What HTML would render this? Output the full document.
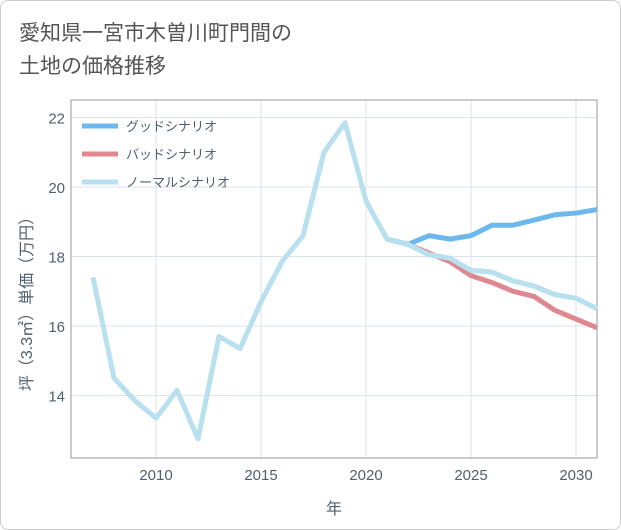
<!DOCTYPE html>
<html><head><meta charset="utf-8"><style>
body{margin:0;background:#fff;font-family:"Liberation Sans","Noto Sans CJK JP",sans-serif;}
#card{position:absolute;left:0;top:0;width:619px;height:528px;border:1px solid #ccc;border-radius:8px;background:#fff;}
#title{position:absolute;left:18px;top:16px;font-size:21px;line-height:33px;color:#555;}
</style></head><body>
<div id="card">
<div id="title">愛知県一宮市木曽川町門間の<br>土地の価格推移</div>
<svg id="chart" width="621" height="530" style="position:absolute;left:-1px;top:-1px"></svg>
</div>
<script>
const years=[2007,2008,2009,2010,2011,2012,2013,2014,2015,2016,2017,2018,2019,2020,2021,2022,2023,2024,2025,2026,2027,2028,2029,2030,2031];
const normalVals=[17.4,14.5,13.85,13.35,14.15,12.75,15.7,15.35,16.7,17.85,18.6,21.0,21.85,19.6,18.5,18.35,18.05,17.95,17.6,17.55,17.3,17.15,16.9,16.8,16.5];
const fYears=[2021,2022,2023,2024,2025,2026,2027,2028,2029,2030,2031];
const goodVals=[18.5,18.35,18.6,18.5,18.6,18.9,18.9,19.05,19.2,19.25,19.35];
const badVals=[18.5,18.35,18.1,17.85,17.45,17.25,17.0,16.85,16.45,16.2,15.95];
const xTicks=[2010,2015,2020,2025,2030];
const yTicks=[14,16,18,20,22];
const legendNames=["グッドシナリオ","バッドシナリオ","ノーマルシナリオ"];
const L=71,R=597,T=100,B=458;
const X=y=>156+(y-2010)*21;
const Y=v=>187+(20-v)*34.75;
const svg=document.getElementById('chart');
const NS='http://www.w3.org/2000/svg';
function mk(t,a){const e=document.createElementNS(NS,t);for(const k in a)e.setAttribute(k,a[k]);svg.appendChild(e);return e;}
xTicks.forEach(t=>{const l=mk('line',{x1:X(t),x2:X(t),y1:T,y2:B,stroke:'#dde3ea'});


const s=mk('text',{x:X(t),y:B+22,'text-anchor':'middle','font-size':15,fill:'#506070'});s.textContent=t;

});
yTicks.forEach(t=>{const l=mk('line',{x1:L,x2:R,y1:Y(t),y2:Y(t),stroke:'#dde3ea'});


const s=mk('text',{x:L-6,y:Y(t)+6,'text-anchor':'end','font-size':15,fill:'#506070'});s.textContent=t;

});
const fr=mk('rect',{x:L,y:T,width:R-L,height:B-T,fill:'none',stroke:'#999'});


function series(xs,vs,c,name){const p=mk('polyline',{points:xs.map((x,i)=>X(x)+','+Y(vs[i])).join(' '),fill:'none',stroke:c,'stroke-width':5,'stroke-linejoin':'round'});

}
series(years,normalVals,'#b8e0ef','normal-line');
series(fYears,badVals,'#df8890','bad-line');
series(fYears,goodVals,'#6ab8ee','good-line');
// redraw normal forecast on top so it shows as in reference
series(fYears,normalVals.slice(years.indexOf(2021)),'#b8e0ef','normal-forecast-line');
const cols=['#6ab8ee','#df8890','#b8e0ef'];
legendNames.forEach((n,i)=>{const y=126+i*28;
const l=mk('line',{x1:82,x2:118,y1:y,y2:y,stroke:cols[i],'stroke-width':5});


const t=mk('text',{x:126,y:y+5,'font-size':13,fill:'#506070'});t.textContent=n;

});
const xt=mk('text',{x:334,y:514,'text-anchor':'middle','font-size':16,fill:'#506070'});xt.textContent='年';


const yt=mk('text',{x:0,y:0,'text-anchor':'middle','font-size':16,fill:'#506070',transform:'translate(32,300) rotate(-90)'});yt.textContent='坪（3.3㎡）単価（万円）';


</script>
</body></html>
